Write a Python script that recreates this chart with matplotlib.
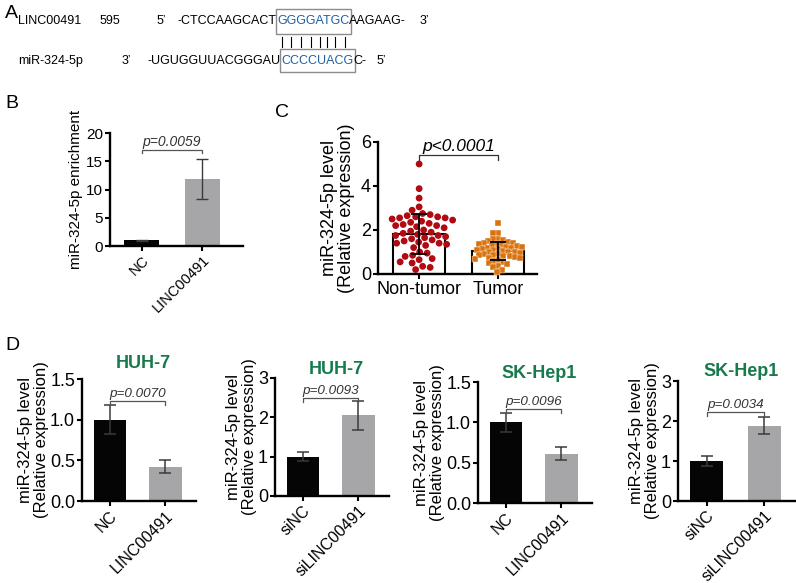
import numpy as np
import matplotlib
matplotlib.use('Agg')
import matplotlib.pyplot as plt
from matplotlib.patches import Rectangle
from matplotlib.font_manager import FontProperties

plt.rcParams['font.family'] = ['Liberation Sans', 'DejaVu Sans']

# ---------------- data ----------------
# Panel A sequences
lnc_name = "LINC00491"
lnc_pos = "595"
lnc_left = "-CTCCAAGCACT"
lnc_seed = "GGGGATGC"
lnc_right = "AAGAAG-"
mir_name = "miR-324-5p"
mir_left = "-UGUGGUUACGGGAU"
mir_seed = "CCCCUACG"
mir_right = "C-"

# Panel B
b_categories = ["NC", "LINC00491"]
b_means = [1.0, 11.85]
b_sd = [0.1, 3.5]
b_p = "p=0.0059"

# Panel C
c_categories = ["Non-tumor", "Tumor"]
c_nontumor = [5.0, 3.88, 3.45, 3.05, 2.9, 2.75, 2.7, 2.65, 2.6, 2.6, 2.55, 2.55,
              2.5, 2.45, 2.4, 2.35, 2.3, 2.25, 2.2, 2.2, 2.15, 2.1, 2.0, 1.95,
              1.9, 1.85, 1.8, 1.75, 1.75, 1.7, 1.65, 1.6, 1.55, 1.5, 1.45, 1.4,
              1.4, 1.35, 1.3, 1.2, 1.0, 0.95, 0.85, 0.8, 0.7, 0.65, 0.55, 0.5,
              0.35, 0.3, 0.2]
c_tumor = [2.33, 1.88, 1.85, 1.6, 1.58, 1.55, 1.5, 1.45, 1.42, 1.4, 1.38, 1.35,
           1.32, 1.3, 1.28, 1.25, 1.22, 1.2, 1.18, 1.15, 1.12, 1.1, 1.08, 1.05,
           1.02, 1.0, 0.98, 0.95, 0.92, 0.9, 0.88, 0.85, 0.82, 0.8, 0.78, 0.75,
           0.72, 0.7, 0.65, 0.6, 0.55, 0.5, 0.45, 0.38, 0.3, 0.2, 0.1]
c_means = [1.82, 1.03]
c_sd = [0.9, 0.41]
c_p = "p<0.0001"

# Panel D
d_titles = ["HUH-7", "HUH-7", "SK-Hep1", "SK-Hep1"]
d_categories = [["NC", "LINC00491"], ["siNC", "siLINC00491"],
                ["NC", "LINC00491"], ["siNC", "siLINC00491"]]
d_means = [[1.0, 0.42], [1.0, 2.05], [1.0, 0.61], [1.0, 1.88]]
d_sd = [[0.18, 0.08], [0.12, 0.37], [0.12, 0.08], [0.12, 0.21]]
d_p = ["p=0.0070", "p=0.0093", "p=0.0096", "p=0.0034"]
d_ymax = [1.5, 3, 1.5, 3]
d_yticks = [[0.0, 0.5, 1.0, 1.5], [0, 1, 2, 3], [0.0, 0.5, 1.0, 1.5], [0, 1, 2, 3]]
d_ticklabels = [["0.0", "0.5", "1.0", "1.5"], ["0", "1", "2", "3"],
                ["0.0", "0.5", "1.0", "1.5"], ["0", "1", "2", "3"]]
d_bracket_y = [1.23, 2.49, 1.165, 2.22]

# ---------------- figure ----------------
W, H = 796, 583
fig = plt.figure(figsize=(W / 100, H / 100), dpi=100)
renderer = fig.canvas.get_renderer()

BLACK = '#050505'
GRAY = '#a6a6a9'
ERR = '#3a3a3a'
GREEN = '#177a4c'
BLUE = '#1f62a6'


def px_axes(left, top, right, bottom):
    return fig.add_axes([left / W, 1 - bottom / H, (right - left) / W, (bottom - top) / H])


def style(ax, fs):
    for s in ['top', 'right']:
        ax.spines[s].set_visible(False)
    for s in ['left', 'bottom']:
        ax.spines[s].set_linewidth(1.7)
    ax.tick_params(width=1.5, length=3.5, direction='out', labelsize=fs, pad=1.5)


def bracket(ax, x0, x1, y, h, text, fs, lc='#555555', tc='#333333'):
    ax.plot([x0, x0, x1, x1], [y - h, y, y, y - h], color=lc, lw=0.9, clip_on=False)
    ax.annotate(text, xy=((x0 + x1) / 2, y), xytext=(0, 1), textcoords='offset points',
                ha='center', va='bottom', fontsize=fs, style='italic', color=tc,
                annotation_clip=False)


def ftext(x, y, s, **kw):
    return fig.text(x / W, 1 - y / H, s, **kw)


# ---------------- Panel A ----------------
famA, fsA = 'Liberation Sans', 9
prop = FontProperties(family=[famA], size=fsA)


def width_px(s):
    w, h, d = renderer.get_text_width_height_descent(s, prop, ismath=False)
    return w


def atext(x, y, s, **kw):
    return ftext(x, y, s, fontsize=fsA, family=[famA, 'DejaVu Sans'], va='center', **kw)


ftext(5, 13, "A", fontsize=14, va='center', ha='left')
y1, y2 = 21, 61
atext(18, y1, lnc_name)
atext(100, y1, lnc_pos)
atext(157, y1, "5\u2019")
x = 178
atext(x, y1, lnc_left)
x_seed1 = x + width_px(lnc_left)
atext(x_seed1, y1, lnc_seed, color=BLUE)
x_after1 = x_seed1 + width_px(lnc_seed)
atext(x_after1, y1, lnc_right)
atext(420, y1, "3\u2019")

atext(18, y2, mir_name)
atext(122, y2, "3\u2019")
x = 148
atext(x, y2, mir_left)
x_seed2 = x + width_px(mir_left)
atext(x_seed2, y2, mir_seed, color=BLUE)
x_after2 = x_seed2 + width_px(mir_seed)
atext(x_after2, y2, mir_right)
atext(377, y2, "5\u2019")

for (xs, xe, top, bot) in [(x_seed1, x_after1, 9, 34), (x_seed2, x_after2, 49, 72)]:
    fig.patches.append(Rectangle(((xs - 1.5) / W, 1 - bot / H), (xe - xs + 3) / W, (bot - top) / H,
                                 transform=fig.transFigure, fill=False,
                                 edgecolor='#8c8c8c', lw=1.0))
for i in range(len(lnc_seed)):
    xc = x_seed1 + (width_px(lnc_seed[:i]) + width_px(lnc_seed[:i + 1])) / 2
    fig.lines.append(plt.Line2D([xc / W, xc / W], [1 - 37 / H, 1 - 47 / H],
                                transform=fig.transFigure, color='black', lw=0.8))

# ---------------- Panel B ----------------
ftext(5, 103, "B", fontsize=14, va='center')
axB = px_axes(110, 133, 243, 246)
xb = np.arange(len(b_categories))
axB.bar(xb, b_means, width=0.58, color=[BLACK, GRAY])
axB.errorbar(xb, b_means, yerr=b_sd, fmt='none', ecolor=ERR, elinewidth=1.0, capsize=4, capthick=1.0)
axB.set_xlim(-0.53, 1.68)
axB.set_ylim(0, 20)
axB.set_yticks([0, 5, 10, 15, 20])
axB.set_xticks(xb)
style(axB, 11)
axB.set_xticklabels(b_categories, rotation=45, ha='right', rotation_mode='anchor', fontsize=10.5)
axB.set_ylabel("miR-324-5p enrichment", fontsize=11, labelpad=2)
bracket(axB, 0, 1, 17.0, 0.6, b_p, 10)

# ---------------- Panel C ----------------
ftext(275, 113, "C", fontsize=14, va='center')
axC = px_axes(378, 142, 537, 274)
xc = np.arange(len(c_categories))
axC.set_xlim(-0.52, 1.49)
axC.set_ylim(0, 6)
axC.bar(xc, c_means, width=0.66, color='white', edgecolor='black', lw=1.5, zorder=1)


def swarm(vals, xcenter, d_px):
    vals = np.asarray(vals, float)
    pts = axC.transData.transform(np.column_stack([np.full(len(vals), xcenter), vals]))
    ys = pts[:, 1]
    x0 = pts[0, 0]
    order = np.argsort(-ys)
    cands = np.arange(-40, 40.01, 0.5)
    cands = cands[np.argsort(np.abs(cands), kind='stable')]
    placed = []
    offs = np.zeros(len(vals))
    for i in order:
        y = ys[i]
        for c in cands:
            ok = True
            for (px, py) in placed:
                if (c - px) ** 2 + (y - py) ** 2 < d_px ** 2:
                    ok = False
                    break
            if ok:
                break
        offs[i] = c
        placed.append((c, y))
    xs_disp = x0 + offs
    back = axC.transData.inverted().transform(np.column_stack([xs_disp, pts[:, 1]]))
    return back[:, 0]


xs_n = swarm(c_nontumor, 0, 7.4)
xs_t = swarm(c_tumor, 1, 5.0)
axC.scatter(xs_n, c_nontumor, s=24, marker='o', color='#b00a12', edgecolors='none', zorder=3, clip_on=False)
axC.scatter(xs_t, c_tumor, s=24, marker='s', color='#d9730f', edgecolors='white', linewidths=0.3,
            zorder=3, clip_on=False)
axC.errorbar(xc, c_means, yerr=c_sd, fmt='none', ecolor='black', elinewidth=1.3, capsize=5.5,
             capthick=1.3, zorder=4)
axC.set_yticks([0, 2, 4, 6])
axC.set_xticks(xc)
axC.set_xticklabels(c_categories)
style(axC, 13)
axC.set_ylabel("miR-324-5p level\n(Relative expression)", fontsize=13, labelpad=4, linespacing=1.05)
bracket(axC, 0, 1, 5.4, 0.2, c_p, 12.5, lc='#333333', tc='black')

# ---------------- Panel D ----------------
ftext(5, 345, "D", fontsize=14, va='center')
d_boxes = [(82, 379, 196, 501), (275, 378, 389, 496), (478, 382, 592, 503), (678, 381, 796, 501)]
title_off = [16, 9, 9, 9]
for k in range(4):
    l, t, r, b = d_boxes[k]
    ax = px_axes(l, t, r, b)
    xd = np.arange(2)
    ax.bar(xd, d_means[k], width=0.58, color=[BLACK, GRAY])
    ax.errorbar(xd, d_means[k], yerr=d_sd[k], fmt='none', ecolor=ERR, elinewidth=1.1,
                capsize=4, capthick=1.1)
    ax.set_xlim(-0.5, 1.55)
    ax.set_ylim(0, d_ymax[k])
    ax.set_yticks(d_yticks[k])
    ax.set_yticklabels(d_ticklabels[k])
    ax.set_xticks(xd)
    style(ax, 13)
    ax.set_xticklabels(d_categories[k], rotation=45, ha='right', rotation_mode='anchor', fontsize=11.5)
    ax.set_ylabel("miR-324-5p level\n(Relative expression)", fontsize=12, labelpad=1, linespacing=1.05)
    bracket(ax, 0, 1, d_bracket_y[k], d_ymax[k] * 0.03, d_p[k], 9.7)
    ax.annotate(d_titles[k], xy=(0.6, d_ymax[k]), xytext=(0, title_off[k]),
                textcoords='offset pixels', ha='center', va='center', fontsize=13,
                fontweight='bold', color=GREEN, annotation_clip=False)

fig.savefig('out.png', dpi=100)
